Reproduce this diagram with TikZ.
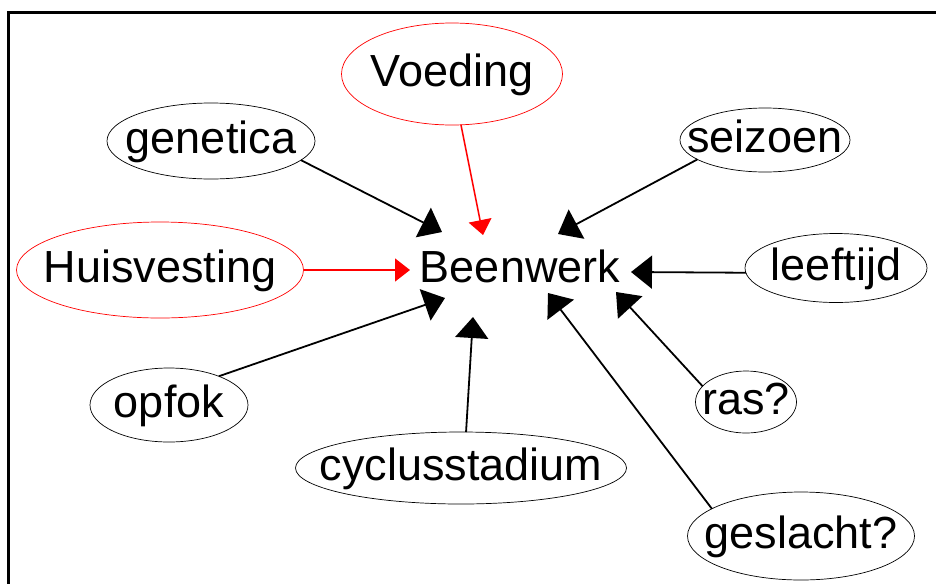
\documentclass[tikz,border=0pt]{standalone}
\usepackage{fontspec}
\setmainfont{Liberation Sans}
\usetikzlibrary{shapes.geometric,arrows.meta}

\tikzset{
  txt/.style={font=\fontsize{45}{54}\selectfont},
  ell/.style={txt, ellipse, draw, line width=0.7pt, inner sep=0pt, outer sep=0pt,
    text height=33pt, text depth=9pt},
  redell/.style={ell, draw=red},
  blk/.style={-{Triangle[length=21pt,width=33pt]}, line width=1.8pt},
  rd/.style={-{Triangle[length=15pt,width=23pt]}, line width=1.5pt, red},
}
\newcommand\myell[7]{\node[#1, minimum width=#4pt, minimum height=#5pt] (#6) at (#2,#3) {\makebox[0pt]{#7}};}

\begin{document}
\begin{tikzpicture}[x=1pt, y=-1pt]
    \useasboundingbox (0,0) rectangle (936,584);
    \draw[line width=3pt] (936,12) -- (8,12) -- (8,584);

    \node[txt] (beenwerk) at (520,266) {Beenwerk};

    \myell{redell}{452}{74}{221}{102}{voeding}{Voeding}
    \myell{redell}{160}{270}{287}{96}{huis}{Huisvesting}
    \myell{ell}{211}{141}{208}{76}{genetica}{genetica}
    \myell{ell}{765}{140}{170}{64}{seizoen}{seizoen}
    \myell{ell}{836}{268}{182}{69}{leeftijd}{leeftijd}
    \myell{ell}{169}{405}{158}{74}{opfok}{opfok}
    \myell{ell}{461}{468}{331}{72}{cyclus}{cyclusstadium}
    \myell{ell}{746}{402}{101}{62}{ras}{ras?}
    \myell{ell}{801}{536}{227}{88}{geslacht}{geslacht?}

    % arrow tips round Beenwerk
    \coordinate (t-voeding) at (483,235);
    \coordinate (t-huis) at (410,270);
    \coordinate (t-genetica) at (442,232);
    \coordinate (t-seizoen) at (558,234);
    \coordinate (t-leeftijd) at (631,272);
    \coordinate (t-opfok) at (445,298);
    \coordinate (t-cyclus) at (473,317);
    \coordinate (t-ras) at (616,292);
    \coordinate (t-geslacht) at (548,293);

    % red ones
    \draw[rd] (voeding.-80) -- (t-voeding);
    \draw[rd] (huis.east) -- (t-huis);

    % black ones
    \draw[blk] (genetica.-12) -- (t-genetica);
    \draw[blk] (seizoen.-164) -- (t-seizoen);
    \draw[blk] (leeftijd.183) -- (t-leeftijd);
    \draw[blk] (opfok.30) -- (t-opfok);
    \draw[blk] (cyclus.82) -- (t-cyclus);
    \draw[blk] (ras.160) -- (t-ras);
    \draw[blk] (geslacht.163) -- (t-geslacht);
\end{tikzpicture}
\end{document}
